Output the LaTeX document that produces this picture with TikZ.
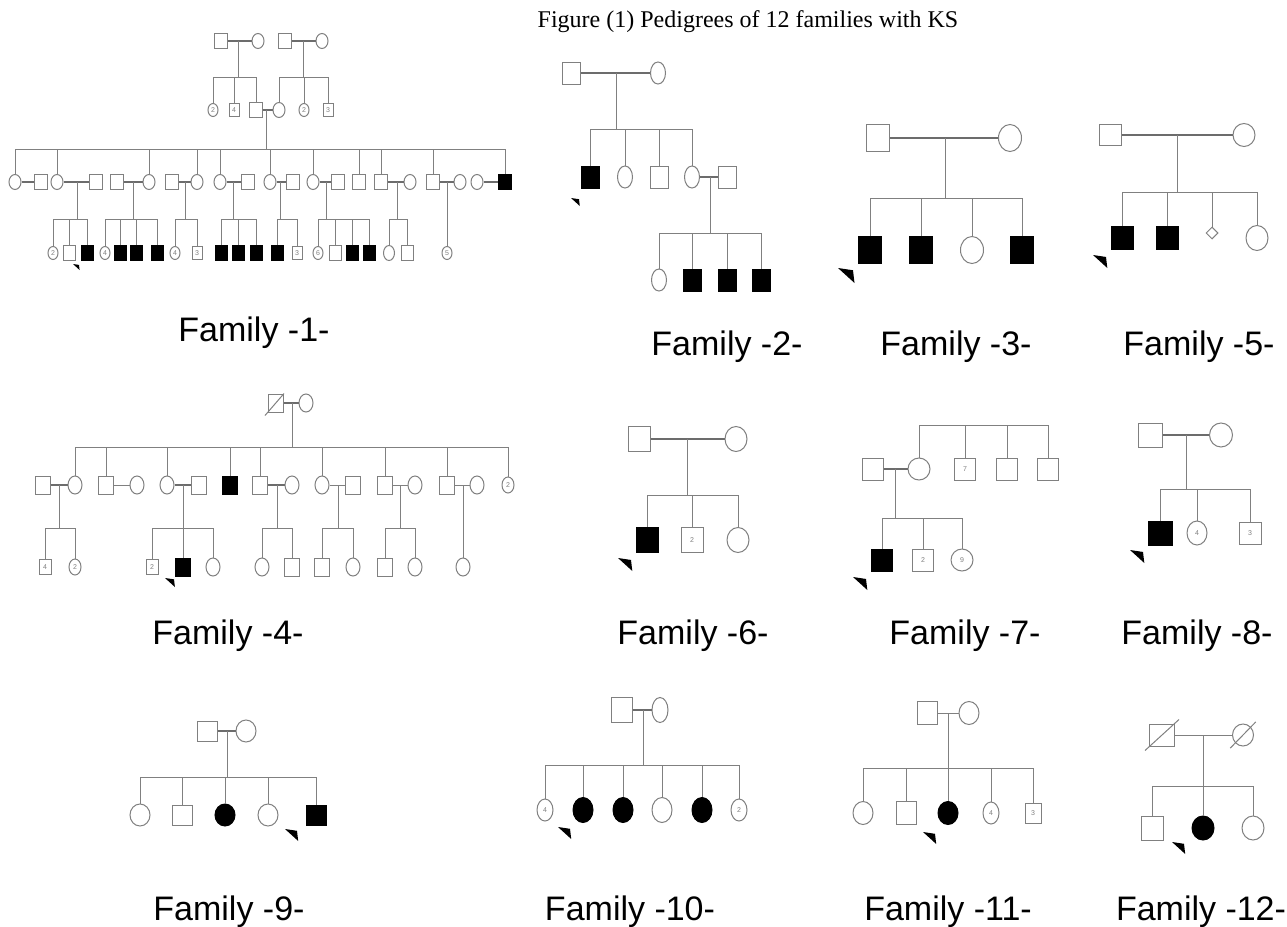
\documentclass[tikz,border=0pt]{standalone}
\usepackage{fontspec}
\setmainfont{Liberation Serif}
\newfontfamily\arialf{Liberation Sans}
\usetikzlibrary{shapes.geometric}
\definecolor{lc}{gray}{0.5}
\newcommand\pedfam[6]{%
  \coordinate (#1m) at (#2,#3);
  \coordinate (#1b) at (#2,#4);
  \draw[ln] (#1m) -- (#1b);
  \draw[ln] (#5.north |- #1b) -- (#6.north |- #1b);
}
\newcommand\pedkids[2]{\foreach \kid in {#2}{\draw[ln] (\kid.north) -- (\kid.north |- #1);}}
\newcommand\pedarrow[3]{\fill (#1,#2) -- ++(#3,0.15*#3) -- ++(0.1*#3,0.85*#3) -- cycle;}
\begin{document}
\begin{tikzpicture}[x=1pt,y=-1pt,
 ind/.style={draw=lc, line width=1pt, inner sep=0pt, text=lc, font=\arialf\fontsize{7}{7}\selectfont},
 sq/.style={ind, rectangle, minimum width=\pSW pt, minimum height=\pSH pt},
 ci/.style={ind, ellipse, minimum width=\pCW pt, minimum height=\pCH pt},
 nm/.style={minimum width=10pt, minimum height=13pt},
 aff/.style={fill=black, draw=black},
 ln/.style={draw=lc, line width=1pt},
 mar/.style={draw=lc!85!black, line width=2.2pt},
 lab/.style={font=\arialf\fontsize{34}{34}\selectfont, inner sep=0pt}]
\fill[white] (0,0) rectangle (1287,926);
\useasboundingbox (0,0) rectangle (1287,926);

\node[font=\fontsize{24}{24}\selectfont, inner sep=0pt] (title) at (748,22) {Figure (1) Pedigrees of 12 families with KS};

% ---------------- Family 1 ----------------
\def\pSW{13}\def\pSH{15}\def\pCW{12}\def\pCH{15}
\node[sq] (a1) at (221,41) {};
\node[ci] (a2) at (258,41) {};
\node[sq] (a3) at (285,41) {};
\node[ci] (a4) at (322,41) {};
\node[ci,nm] (b1) at (213,110) {2};
\node[sq,nm] (b2) at (234,110) {4};
\node[sq] (b3) at (256,110) {};
\node[ci] (b4) at (279,110) {};
\node[ci,nm] (b5) at (304,110) {2};
\node[sq,nm] (b6) at (328,110) {3};
\node[ci] (c1) at (15,182) {};
\node[sq] (c2) at (41,182) {};
\node[ci] (c3) at (57,182) {};
\node[sq] (c4) at (96,182) {};
\node[sq] (c5) at (117,182) {};
\node[ci] (c6) at (149,182) {};
\node[sq] (c7) at (172,182) {};
\node[ci] (c8) at (197,182) {};
\node[ci] (c9) at (220,182) {};
\node[sq] (c10) at (248,182) {};
\node[ci] (c11) at (270,182) {};
\node[sq] (c12) at (293,182) {};
\node[ci] (c13) at (313,182) {};
\node[sq] (c14) at (338,182) {};
\node[sq] (c15) at (359,182) {};
\node[sq] (c16) at (381,182) {};
\node[ci] (c17) at (410,182) {};
\node[sq] (c18) at (433,182) {};
\node[ci] (c19) at (460,182) {};
\node[ci] (c20) at (477,182) {};
\node[sq,aff] (c21) at (505,182) {};
\def\pSW{12}\def\pSH{15}\def\pCW{11}\def\pCH{15}
\node[ci,nm] (d1) at (53,253) {2};
\node[sq] (d2) at (69,253) {};
\node[sq,aff] (d3) at (87,253) {};
\node[ci,nm] (d4) at (105,253) {4};
\node[sq,aff] (d5) at (120,253) {};
\node[sq,aff] (d6) at (136,253) {};
\node[sq,aff] (d7) at (157,253) {};
\node[ci,nm] (d8) at (175,253) {4};
\node[sq,nm] (d9) at (197,253) {3};
\node[sq,aff] (d10) at (221,253) {};
\node[sq,aff] (d11) at (238,253) {};
\node[sq,aff] (d12) at (256,253) {};
\node[sq,aff] (d13) at (277,253) {};
\node[sq,nm] (d14) at (297,253) {3};
\node[ci,nm] (d15) at (318,253) {6};
\node[sq] (d16) at (335,253) {};
\node[sq,aff] (d17) at (352,253) {};
\node[sq,aff] (d18) at (369,253) {};
\node[ci] (d19) at (389,253) {};
\node[sq] (d20) at (407,253) {};
\node[ci,nm] (d21) at (447,253) {5};
\draw[mar] (a1) -- (a2); \draw[mar] (a3) -- (a4); \draw[mar] (b3) -- (b4);
\pedfam{F1a}{238}{41}{77}{b1}{b3} \pedkids{F1ab}{b1,b2,b3}
\pedfam{F1b}{303}{41}{77}{b4}{b6} \pedkids{F1bb}{b4,b5,b6}
\pedfam{F1c}{266}{110}{149}{c1}{c21} \pedkids{F1cb}{c1,c3,c6,c8,c9,c11,c13,c15,c16,c18,c21}
\foreach \u/\v in {c1/c2,c3/c4,c5/c6,c7/c8,c9/c10,c11/c12,c13/c14,c16/c17,c18/c19,c20/c21}{\draw[mar] (\u) -- (\v);}
\pedfam{F1d}{77}{182}{219}{d1}{d3} \pedkids{F1db}{d1,d2,d3}
\pedfam{F1e}{133}{182}{219}{d4}{d7} \pedkids{F1eb}{d4,d5,d6,d7}
\pedfam{F1f}{185}{182}{219}{d8}{d9} \pedkids{F1fb}{d8,d9}
\pedfam{F1g}{233}{182}{219}{d10}{d12} \pedkids{F1gb}{d10,d11,d12}
\pedfam{F1h}{280}{182}{219}{d13}{d14} \pedkids{F1hb}{d13,d14}
\pedfam{F1i}{326}{182}{219}{d15}{d18} \pedkids{F1ib}{d15,d16,d17,d18}
\pedfam{F1j}{397}{182}{219}{d19}{d20} \pedkids{F1jb}{d19,d20}
\pedfam{F1k}{447}{182}{246}{d21}{d21}
\pedarrow{73}{264}{6}
\node[lab] (L1) at (254,333) {Family -1-};

% ---------------- Family 2 ----------------
\def\pSW{18}\def\pSH{22}\def\pCW{15}\def\pCH{22}
\node[sq] (p2a) at (571,73) {};
\node[ci] (p2b) at (658,73) {};
\node[sq,aff] (p2c) at (590,177) {};
\node[ci] (p2d) at (625,177) {};
\node[sq] (p2e) at (659,177) {};
\node[ci] (p2f) at (692,177) {};
\node[sq] (p2g) at (727,177) {};
\node[ci] (p2h) at (659,280) {};
\node[sq,aff] (p2i) at (692,280) {};
\node[sq,aff] (p2j) at (727,280) {};
\node[sq,aff] (p2k) at (761,280) {};
\draw[mar] (p2a) -- (p2b); \draw[mar] (p2f) -- (p2g);
\pedfam{F2a}{616}{73}{129}{p2c}{p2f} \pedkids{F2ab}{p2c,p2d,p2e,p2f}
\pedfam{F2b}{710}{177}{233}{p2h}{p2k} \pedkids{F2bb}{p2h,p2i,p2j,p2k}
\pedarrow{571}{198}{8}
\node[lab] (L2) at (727,347) {Family -2-};

% ---------------- Family 3 ----------------
\def\pSW{23}\def\pSH{27}\def\pCW{23}\def\pCH{27}
\node[sq] (p3a) at (878,138) {};
\node[ci] (p3b) at (1010,138) {};
\node[sq,aff] (p3c) at (870,250) {};
\node[sq,aff] (p3d) at (921,250) {};
\node[ci] (p3e) at (972,250) {};
\node[sq,aff] (p3f) at (1022,250) {};
\draw[mar] (p3a) -- (p3b);
\pedfam{F3a}{945}{138}{198}{p3c}{p3f} \pedkids{F3ab}{p3c,p3d,p3e,p3f}
\pedarrow{838}{268}{15}
\node[lab] (L3) at (956,347) {Family -3-};

% ---------------- Family 5 ----------------
\def\pSW{22}\def\pSH{21}\def\pCW{22}\def\pCH{23}
\node[sq] (p5a) at (1110,135) {};
\node[ci] (p5b) at (1244,135) {};
\node[sq,aff,minimum height=23pt] (p5c) at (1122,238) {};
\node[sq,aff,minimum height=23pt] (p5d) at (1167,238) {};
\node[ind,diamond,minimum size=12pt] (p5e) at (1212,233) {};
\node[ci,minimum height=25pt] (p5f) at (1257,238) {};
\draw[mar] (p5a) -- (p5b);
\pedfam{F5a}{1177}{135}{192}{p5c}{p5f} \pedkids{F5ab}{p5c,p5d,p5e,p5f}
\pedarrow{1093}{255}{13}
\node[lab] (L5) at (1199,347) {Family -5-};

% ---------------- Family 4 ----------------
\def\pSW{15}\def\pSH{18}\def\pCW{14}\def\pCH{18}
\node[sq] (p4a) at (276,403) {};
\node[ci] (p4b) at (306,403) {};
\draw[ln] ([shift={(-3,3)}]p4a.south west) -- (p4a.north east);
\node[sq] (q1) at (43,485) {};
\node[ci] (q2) at (75,485) {};
\node[sq] (q3) at (106,485) {};
\node[ci] (q4) at (137,485) {};
\node[ci] (q5) at (167,485) {};
\node[sq] (q6) at (199,485) {};
\node[sq,aff] (q7) at (230,485) {};
\node[sq] (q8) at (260,485) {};
\node[ci] (q9) at (292,485) {};
\node[ci] (q10) at (322,485) {};
\node[sq] (q11) at (353,485) {};
\node[sq] (q12) at (385,485) {};
\node[ci] (q13) at (415,485) {};
\node[sq] (q14) at (447,485) {};
\node[ci] (q15) at (477,485) {};
\node[ci,minimum width=12pt,minimum height=16pt] (q16) at (508,485) {2};
\node[sq,nm,minimum width=12pt,minimum height=15pt] (r1) at (45,567) {4};
\node[ci,nm,minimum width=12pt,minimum height=16pt] (r2) at (75,567) {2};
\node[sq,nm,minimum width=12pt,minimum height=15pt] (r3) at (152,567) {2};
\node[sq,aff] (r4) at (183,567) {};
\node[ci] (r5) at (213,567) {};
\node[ci] (r6) at (262,567) {};
\node[sq] (r7) at (292,567) {};
\node[sq] (r8) at (322,567) {};
\node[ci] (r9) at (353,567) {};
\node[sq] (r10) at (385,567) {};
\node[ci] (r11) at (415,567) {};
\node[ci] (r12) at (463,567) {};
\draw[mar] (p4a) -- (p4b);
\draw[mar] (q1) -- (q2); \draw[ln] (q3) -- (q4); \draw[mar] (q5) -- (q6);
\draw[mar] (q8) -- (q9); \draw[ln] (q10) -- (q11); \draw[ln] (q12) -- (q13); \draw[ln] (q14) -- (q15);
\pedfam{F4a}{292}{403}{447}{q2}{q16} \pedkids{F4ab}{q2,q3,q5,q7,q8,q10,q12,q14,q16}
\pedfam{F4b}{59}{485}{528}{r1}{r2} \pedkids{F4bb}{r1,r2}
\pedfam{F4c}{183}{485}{528}{r3}{r5} \pedkids{F4cb}{r3,r4,r5}
\pedfam{F4d}{277}{485}{528}{r6}{r7} \pedkids{F4db}{r6,r7}
\pedfam{F4e}{338}{485}{528}{r8}{r9} \pedkids{F4eb}{r8,r9}
\pedfam{F4f}{400}{485}{528}{r10}{r11} \pedkids{F4fb}{r10,r11}
\pedfam{F4g}{463}{485}{558}{r12}{r12}
\pedarrow{165}{578}{9}
\node[lab] (L4) at (228,636) {Family -4-};

% ---------------- Family 6 ----------------
\def\pSW{22}\def\pSH{25}\def\pCW{22}\def\pCH{25}
\node[sq] (p6a) at (639,439) {};
\node[ci] (p6b) at (736,439) {};
\node[sq,aff] (p6c) at (647,540) {};
\node[sq] (p6d) at (692,540) {2};
\node[ci] (p6e) at (738,540) {};
\draw[mar] (p6a) -- (p6b);
\pedfam{F6a}{687}{439}{495}{p6c}{p6e} \pedkids{F6ab}{p6c,p6d,p6e}
\pedarrow{618}{558}{13}
\node[lab] (L6) at (693,636) {Family -6-};

% ---------------- Family 7 ----------------
\def\pSW{21}\def\pSH{22}\def\pCW{22}\def\pCH{22}
\node[sq] (p7a) at (873,469) {};
\node[ci] (p7b) at (919,469) {};
\node[sq] (p7c) at (965,469) {7};
\node[sq] (p7d) at (1007,469) {};
\node[sq] (p7e) at (1048,469) {};
\node[sq,aff] (p7f) at (882,560) {};
\node[sq] (p7g) at (923,560) {2};
\node[ci] (p7h) at (962,560) {9};
\coordinate (F7u) at (919,425);
\draw[ln] (p7b.north |- F7u) -- (p7e.north |- F7u);
\pedkids{F7u}{p7b,p7c,p7d,p7e}
\draw[mar] (p7a) -- (p7b);
\pedfam{F7a}{895}{469}{518}{p7f}{p7h} \pedkids{F7ab}{p7f,p7g,p7h}
\pedarrow{853}{577}{13}
\node[lab] (L7) at (965,636) {Family -7-};

% ---------------- Family 8 ----------------
\def\pSW{24}\def\pSH{24}\def\pCW{23}\def\pCH{24}
\node[sq] (p8a) at (1150,435) {};
\node[ci] (p8b) at (1221,435) {};
\node[sq,aff] (p8c) at (1160,533) {};
\node[ci,minimum width=20pt] (p8d) at (1197,533) {4};
\node[sq,minimum width=22pt,minimum height=22pt] (p8e) at (1250,533) {3};
\draw[mar] (p8a) -- (p8b);
\pedfam{F8a}{1186}{435}{489}{p8c}{p8e} \pedkids{F8ab}{p8c,p8d,p8e}
\pedarrow{1130}{550}{13}
\node[lab] (L8) at (1197,636) {Family -8-};

% ---------------- Family 9 ----------------
\def\pSW{20}\def\pSH{20}\def\pCW{20}\def\pCH{22}
\node[sq] (p9a) at (207,731) {};
\node[ci] (p9b) at (246,731) {};
\node[ci] (p9c) at (140,815) {};
\node[sq] (p9d) at (182,815) {};
\node[ci,aff] (p9e) at (225,815) {};
\node[ci] (p9f) at (268,815) {};
\node[sq,aff] (p9g) at (316,815) {};
\draw[mar] (p9a) -- (p9b);
\pedfam{F9a}{227}{731}{777}{p9c}{p9g} \pedkids{F9ab}{p9c,p9d,p9e,p9f,p9g}
\pedarrow{285}{829}{12}
\node[lab] (L9) at (229,912) {Family -9-};

% ---------------- Family 10 ----------------
\def\pSW{21}\def\pSH{25}\def\pCW{20}\def\pCH{25}
\node[sq] (p10a) at (622,710) {};
\node[ci,minimum width=16pt] (p10b) at (660,710) {};
\node[ci,minimum width=16pt,minimum height=22pt] (s1) at (545,810) {4};
\node[ci,aff] (s2) at (583,810) {};
\node[ci,aff] (s3) at (623,810) {};
\node[ci] (s4) at (662,810) {};
\node[ci,aff] (s5) at (702,810) {};
\node[ci,minimum width=16pt,minimum height=22pt] (s6) at (739,810) {2};
\draw[mar] (p10a) -- (p10b);
\pedfam{F10a}{643}{710}{765}{s1}{s6} \pedkids{F10ab}{s1,s2,s3,s4,s5,s6}
\pedarrow{558}{827}{12}
\node[lab] (L10) at (630,912) {Family -10-};

% ---------------- Family 11 ----------------
\def\pSW{20}\def\pSH{23}\def\pCW{20}\def\pCH{23}
\node[sq] (p11a) at (927,713) {};
\node[ci] (p11b) at (969,713) {};
\node[ci] (t1) at (863,813) {};
\node[sq] (t2) at (906,813) {};
\node[ci,aff] (t3) at (948,813) {};
\node[ci,minimum width=16pt,minimum height=22pt] (t4) at (991,813) {4};
\node[sq,minimum width=16pt,minimum height=20pt] (t5) at (1033,813) {3};
\draw[ln] (p11a) -- (p11b);
\pedfam{F11a}{948}{713}{768}{t1}{t5} \pedkids{F11ab}{t1,t2,t3,t4,t5}
\pedarrow{923}{832}{12}
\node[lab] (L11) at (948,912) {Family -11-};

% ---------------- Family 12 ----------------
\def\pSW{25}\def\pSH{22}\def\pCW{21}\def\pCH{22}
\node[sq] (p12a) at (1162,735) {};
\node[ci] (p12b) at (1243,735) {};
\draw[ln] ([shift={(-4,4)}]p12a.south west) -- ([shift={(4,-4)}]p12a.north east);
\draw[ln] ([shift={(-5,5)}]p12b.south west) -- ([shift={(5,-5)}]p12b.north east);
\def\pSW{22}\def\pSH{24}\def\pCW{22}\def\pCH{24}
\node[sq] (u1) at (1152,828) {};
\node[ci,aff] (u2) at (1203,828) {};
\node[ci] (u3) at (1253,828) {};
\draw[ln] (p12a) -- (p12b);
\pedfam{F12a}{1203}{735}{786}{u1}{u3} \pedkids{F12ab}{u1,u2,u3}
\pedarrow{1172}{842}{12}
\node[lab] (L12) at (1201,912) {Family -12-};
\end{tikzpicture}
\end{document}
